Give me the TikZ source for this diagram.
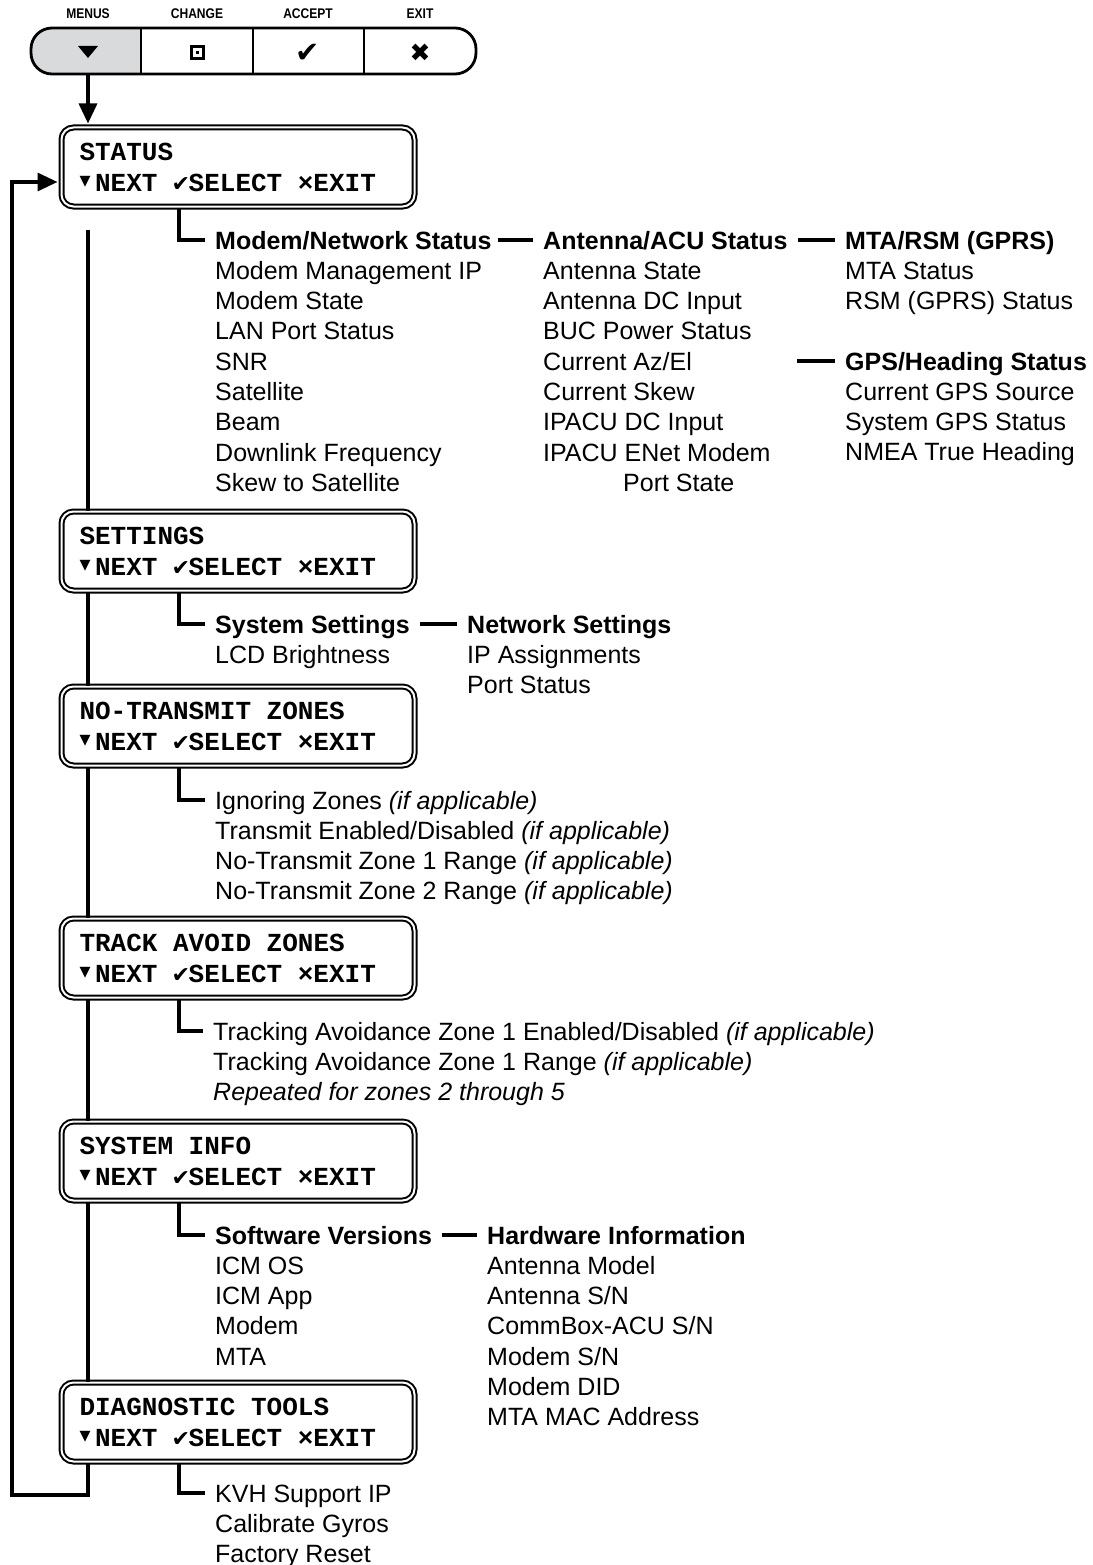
\documentclass[tikz,border=0pt]{standalone}
\usepackage{fontspec}
\setmainfont{Liberation Sans}
\newfontfamily\lcdfont{Liberation Mono}
\newfontfamily\symfont{DejaVu Sans}
\newfontfamily\keyfont[FakeStretch=0.86]{Liberation Sans}
\usepackage{tikz}
\usetikzlibrary{arrows.meta,positioning}
\definecolor{KeyGray}{HTML}{D9DADB}
\newcommand{\lsp}{\hspace*{0.6em}}
\newcommand{\lcdkeys}{\makebox[0.6em][l]{\raisebox{0.22em}{\scalebox{0.55}{\symfont ▼}}}NEXT\lsp
  \makebox[0.6em]{\scalebox{0.85}{\symfont ✔}}SELECT\lsp ×EXIT}
\newcommand{\menulist}[1]{\begin{tabular}[t]{@{}l@{}}#1\end{tabular}}

\begin{document}
\begin{tikzpicture}[
  x=1pt,y=-1pt,
  lcdbox/.style={draw,line width=2pt,double=white,double distance=2pt,
    rounded corners=12pt,fill=white,minimum width=353pt,minimum height=79pt,
    text width=317pt,inner xsep=18pt,align=left,
    font=\lcdfont\bfseries\fontsize{26}{31}\selectfont},
  hdr/.style={anchor=base west,inner sep=0pt,font=\bfseries\fontsize{25}{30.3}\selectfont},
  items/.style={anchor=base west,inner sep=0pt,font=\fontsize{25}{30.3}\selectfont},
  keycell/.style={minimum width=110pt,minimum height=46pt,inner sep=0pt},
  keylabel/.style={inner sep=0pt,font=\keyfont\bfseries\fontsize{14}{15}\selectfont},
  link/.style={line width=3.2pt,line join=miter},
  arrowlink/.style={link,-{Triangle[length=20pt,width=18pt]},shorten >=3pt}
]
  \useasboundingbox (0,0) rectangle (1092,1565);

  \begin{scope}
    \clip[rounded corners=21pt] (31,28) rectangle (476,74);
    \fill[KeyGray] (31,28) rectangle (141,74);
  \end{scope}
  \draw[line width=2.8pt,rounded corners=21pt] (31,28) rectangle (476,74);
  \foreach \x in {141,253,364}
    \draw[line width=2.8pt] (\x,28) -- (\x,74);

  \node[keycell] (menus) at (88,51) {};
  \node[keycell] (change) at (197,51) {};
  \node[keycell] (accept) at (308,51) {};
  \node[keycell] (exit) at (420,51) {};
  \node[keylabel] (menuslbl) at (88,14) {MENUS};
  \node[keylabel] (changelbl) at (197,14) {CHANGE};
  \node[keylabel] (acceptlbl) at (308,14) {ACCEPT};
  \node[keylabel] (exitlbl) at (420,14) {EXIT};
  \fill (78,46) -- (98,46) -- (88,58) -- cycle;
  \draw[line width=3.2pt] (191.5,46.5) rectangle (203.5,58.5);
  \fill (195.7,50.7) rectangle (199.3,54.3);
  \node[inner sep=0pt,font=\symfont\fontsize{29}{29}\selectfont] (acceptsym) at (308,53) {✔};
  \node[inner sep=0pt,font=\symfont\fontsize{25}{25}\selectfont] (exitsym) at (420,53) {✖};

  \node[lcdbox] (status) at (238,167) {STATUS\\\lcdkeys};
  \node[lcdbox] (settings) at (238,551) {SETTINGS\\\lcdkeys};
  \node[lcdbox] (notx) at (238,726) {NO-TRANSMIT\lsp ZONES\\\lcdkeys};
  \node[lcdbox] (track) at (238,958) {TRACK\lsp AVOID\lsp ZONES\\\lcdkeys};
  \node[lcdbox] (sysinfo) at (238,1161) {SYSTEM\lsp INFO\\\lcdkeys};
  \node[lcdbox] (diag) at (238,1422) {DIAGNOSTIC\lsp TOOLS\\\lcdkeys};

  \node[hdr] (modemhdr) at (215,249) {Modem/Network Status};
  \node[items] (modemitems) at ([yshift=-30.3pt]modemhdr.base west)
    {\menulist{Modem Management IP\\Modem State\\LAN Port Status\\SNR\\Satellite\\Beam\\
     Downlink Frequency\\Skew to Satellite}};
  \node[hdr] (antennahdr) at (543,249) {Antenna/ACU Status};
  \node[items] (antennaitems) at ([yshift=-30.3pt]antennahdr.base west)
    {\menulist{Antenna State\\Antenna DC Input\\BUC Power Status\\Current Az/El\\Current Skew\\
     IPACU DC Input\\IPACU ENet Modem\\\hspace*{80pt}Port State}};
  \node[hdr] (mtahdr) at (845,249) {MTA/RSM (GPRS)};
  \node[items] (mtaitems) at ([yshift=-30.3pt]mtahdr.base west)
    {\menulist{MTA Status\\RSM (GPRS) Status}};
  \node[hdr] (gpshdr) at (845,370) {GPS/Heading Status};
  \node[items] (gpsitems) at ([yshift=-30.3pt]gpshdr.base west)
    {\menulist{Current GPS Source\\System GPS Status\\NMEA True Heading}};
  \coordinate (gpsstub) at (797,361);

  \node[hdr] (syshdr) at (215,633) {System Settings};
  \node[items] (sysitems) at ([yshift=-30.3pt]syshdr.base west) {LCD Brightness};
  \node[hdr] (nethdr) at (467,633) {Network Settings};
  \node[items] (netitems) at ([yshift=-30.3pt]nethdr.base west)
    {\menulist{IP Assignments\\Port Status}};

  \node[items] (ntzitems) at (215,809)
    {\menulist{Ignoring Zones \textit{(if applicable)}\\
     Transmit Enabled/Disabled \textit{(if applicable)}\\
     No-Transmit Zone 1 Range \textit{(if applicable)}\\
     No-Transmit Zone 2 Range \textit{(if applicable)}}};

  \node[items] (tazitems) at (213,1040)
    {\menulist{Tracking Avoidance Zone 1 Enabled/Disabled \textit{(if applicable)}\\
     Tracking Avoidance Zone 1 Range \textit{(if applicable)}\\
     \textit{Repeated for zones 2 through 5}}};

  \node[hdr] (swhdr) at (215,1244) {Software Versions};
  \node[items] (switems) at ([yshift=-30.3pt]swhdr.base west)
    {\menulist{ICM OS\\ICM App\\Modem\\MTA}};
  \node[hdr] (hwhdr) at (487,1244) {Hardware Information};
  \node[items] (hwitems) at ([yshift=-30.3pt]hwhdr.base west)
    {\menulist{Antenna Model\\Antenna S/N\\CommBox-ACU S/N\\Modem S/N\\Modem DID\\MTA MAC Address}};

  \node[items] (diagitems) at (215,1502)
    {\menulist{KVH Support IP\\Calibrate Gyros\\Factory Reset}};

  \draw[arrowlink] (menus.south) -- ([xshift=-150pt]status.north);
  \draw[link] ([xshift=-150pt,yshift=-22pt]status.south) -- ([xshift=-150pt]settings.north);
  \foreach \a/\b in {settings/notx,notx/track,track/sysinfo,sysinfo/diag}
    \draw[link] ([xshift=-150pt]\a.south) -- ([xshift=-150pt]\b.north);
  \coordinate (loopcorner) at (12,1495);
  \draw[arrowlink] ([xshift=-150pt]diag.south) |- (loopcorner)
    |- ([yshift=-15pt]status.west);

  \foreach \bx/\hd in {status/modemhdr,settings/syshdr,notx/ntzitems,
      track/tazitems,sysinfo/swhdr,diag/diagitems}
    \draw[link] ([xshift=-59pt]\bx.south) |- ([xshift=-10pt,yshift=9pt]\hd.base west);

  \draw[link] ([xshift=6pt,yshift=9pt]modemhdr.base east) -- ([xshift=-10pt,yshift=9pt]antennahdr.base west);
  \draw[link] ([xshift=10pt,yshift=9pt]antennahdr.base east) -- ([xshift=-10pt,yshift=9pt]mtahdr.base west);
  \draw[link] (gpsstub) -- ([xshift=-10pt,yshift=9pt]gpshdr.base west);
  \draw[link] ([xshift=10pt,yshift=9pt]syshdr.base east) -- ([xshift=-10pt,yshift=9pt]nethdr.base west);
  \draw[link] ([xshift=10pt,yshift=9pt]swhdr.base east) -- ([xshift=-10pt,yshift=9pt]hwhdr.base west);
\end{tikzpicture}
\end{document}
